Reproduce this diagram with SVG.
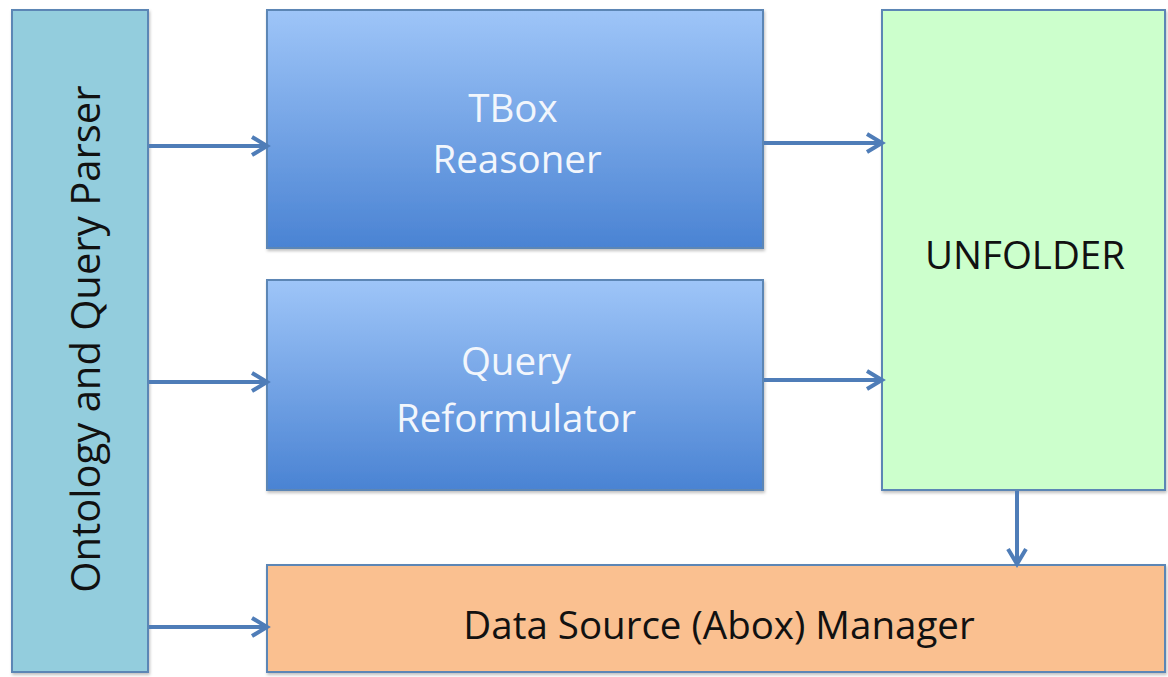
<svg xmlns="http://www.w3.org/2000/svg" width="1168" height="677" viewBox="0 0 1168 677">
<defs>
<linearGradient id="blueGrad" x1="0" y1="0" x2="0" y2="1">
<stop offset="0" stop-color="#9EC5F8"/>
<stop offset="1" stop-color="#4A83D3"/>
</linearGradient>
<marker id="arrow" viewBox="0 0 12 12" refX="10" refY="6" markerWidth="6" markerHeight="6" orient="auto" markerUnits="strokeWidth">
<path d="M2.5,1.5 L10,6 L2.5,10.5" fill="none" stroke="#4F7DB8" stroke-width="2" stroke-linejoin="miter"/>
</marker>
<filter id="shadow" x="-5%" y="-5%" width="110%" height="110%">
<feDropShadow dx="1" dy="2" stdDeviation="1.5" flood-color="#000" flood-opacity="0.25"/>
</filter>
</defs>
<style>
.box{stroke:#5B86B5;stroke-width:2;filter:url(#shadow)}
.wt{font-family:"Open Sans","Liberation Sans",sans-serif;font-size:38.5px;fill:#F2F6FC;text-anchor:middle}
.bt{font-family:"Open Sans","Liberation Sans",sans-serif;font-size:38.5px;fill:#111;text-anchor:middle}
.conn{stroke:#4F7DB8;stroke-width:4;fill:none;marker-end:url(#arrow)}
</style>
<rect width="1168" height="677" fill="#FFFFFF"/>
<g id="parser">
<rect class="box" x="12" y="10" width="136" height="662" fill="#93CDDD"/>
<text class="bt" style="font-size:40px" transform="translate(100,339) rotate(-90)">Ontology and Query Parser</text>
</g>
<g id="tbox">
<rect class="box" x="267" y="10" width="496" height="238" fill="url(#blueGrad)"/>
<text class="wt" x="513" y="122">TBox</text>
<text class="wt" x="517" y="173">Reasoner</text>
</g>
<g id="reformulator">
<rect class="box" x="267" y="280" width="496" height="210" fill="url(#blueGrad)"/>
<text class="wt" x="516" y="375">Query</text>
<text class="wt" x="516" y="432">Reformulator</text>
</g>
<g id="unfolder">
<rect class="box" x="882" y="10" width="283" height="480" fill="#CCFFCC"/>
<text class="bt" x="1025" y="269">UNFOLDER</text>
</g>
<g id="datasource">
<rect class="box" x="267" y="565" width="898" height="107" fill="#FAC090"/>
<text class="bt" x="719" y="639">Data Source (Abox) Manager</text>
</g>
<g id="connectors">
<line class="conn" x1="149" y1="146" x2="267" y2="146"/>
<line class="conn" x1="149" y1="382" x2="267" y2="382"/>
<line class="conn" x1="149" y1="627" x2="267" y2="627"/>
<line class="conn" x1="764" y1="143" x2="882" y2="143"/>
<line class="conn" x1="764" y1="380" x2="882" y2="380"/>
<line class="conn" x1="1017" y1="491" x2="1017" y2="564"/>
</g>
</svg>
